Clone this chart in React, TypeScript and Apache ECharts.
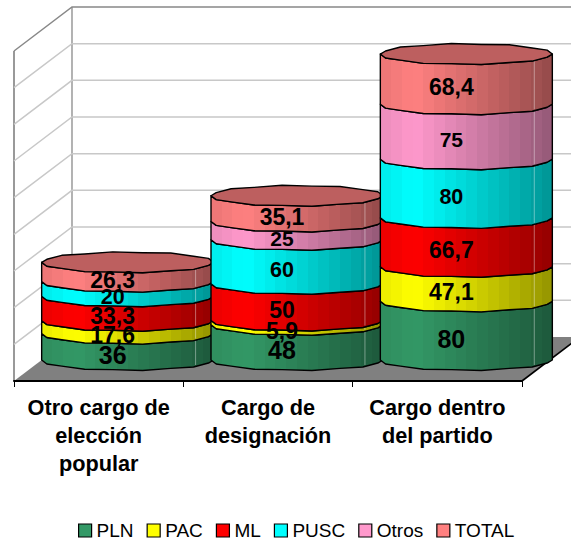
import React, { useEffect, useRef } from "react";
import * as echarts from "echarts";

const categories = ["Otro cargo de\nelección\npopular", "Cargo de\ndesignación", "Cargo dentro\ndel partido"];
const seriesNames = ["PLN", "PAC", "ML", "PUSC", "Otros", "TOTAL"];
const valPLN = [36, 48, 80];
const valPAC = [17.6, 5.9, 47.1];
const valML = [33.3, 50, 66.7];
const valPUSC = [20, 60, 80];
const valOtros = [null, 25, 75];
const valTOTAL = [26.3, 35.1, 68.4];
const allValues = [valPLN, valPAC, valML, valPUSC, valOtros, valTOTAL];
const axisTicks = [0, 50, 100, 150, 200, 250, 300, 350, 400, 450];

const colors = ["#339966", "#FFFF00", "#FF0000", "#00FFFF", "#FF99CC", "#FF8080"];
const labelSizes = [25, 23, 23, 21.5, 21, 23];
const FONT = "'Liberation Sans', Arial, sans-serif";

const DEPTH_X = 58, DEPTH_Y = -44;
const OFF_X = 29, OFF_Y = -21;
const RX = 86, RY = 10.2;
const STEP = 20;

function shade(hex: string, f: number) {
  const n = parseInt(hex.slice(1), 16);
  const c = [(n >> 16) & 255, (n >> 8) & 255, n & 255].map((v) => Math.round(v * f));
  return `rgb(${c[0]},${c[1]},${c[2]})`;
}

function facetGradient(hex: string) {
  const bands = 16;
  const stops: { offset: number; color: string }[] = [];
  for (let i = 0; i < bands; i++) {
    const m = (i + 0.5) / bands;
    const f = m < 0.2 ? 0.92 + (0.08 * m) / 0.2 : 1 - (0.42 * (m - 0.2)) / 0.8;
    const color = shade(hex, f);
    stops.push({ offset: i / bands, color });
    stops.push({ offset: (i + 1) / bands, color });
  }
  return new echarts.graphic.LinearGradient(0, 0, 1, 0, stops);
}

function rimPoint(cx: number, cy: number, deg: number): number[] {
  const a = (deg * Math.PI) / 180;
  const wob = Math.round(deg / STEP) % 2 === 0 ? 0.45 : -0.45;
  const isEnd = deg % 180 === 0;
  return [cx + RX * Math.cos(a), cy + RY * Math.sin(a) + (isEnd ? 0 : wob)];
}

function frontArc(cx: number, cy: number): number[][] {
  const pts: number[][] = [];
  for (let d = 0; d <= 180; d += STEP) pts.push(rimPoint(cx, cy, d));
  return pts;
}

function fullRim(cx: number, cy: number): number[][] {
  const pts: number[][] = [];
  for (let d = 0; d < 360; d += STEP) pts.push(rimPoint(cx, cy, d));
  return pts;
}

export default function App() {
  const ref = useRef<HTMLDivElement>(null);

  useEffect(() => {
    document.body.style.margin = "0";
    const chart = echarts.init(ref.current!, undefined, { renderer: "svg" });

    const partySeries = seriesNames.map((name, s) => {
      const data = categories.map((_, c) => {
        let base = 0;
        for (let k = 0; k < s; k++) base += allValues[k][c] ?? 0;
        const v = allValues[s][c];
        return [c, base, base + (v ?? 0), v ?? 0];
      });
      return {
        type: "custom",
        name,
        itemStyle: { color: colors[s] },
        encode: { x: 0, y: [1, 2] },
        data,
        clip: false,
        renderItem: (_p: any, api: any) => {
          const c = api.value(0), lo = api.value(1), hi = api.value(2), v = api.value(3);
          if (!v) return { type: "group", children: [] };
          const b = api.coord([c, lo]);
          const t = api.coord([c, hi]);
          const cx = b[0] + OFF_X;
          const yb = b[1] + OFF_Y;
          const yt = t[1] + OFF_Y;
          const z = c * 10 + s;
          const lowArc = frontArc(cx, yb);
          const upArc = frontArc(cx, yt);
          const children: any[] = [
            {
              type: "polygon",
              z2: z,
              shape: { points: lowArc.concat(upArc.slice().reverse()) },
              style: { fill: facetGradient(colors[s]), stroke: "#000", lineWidth: 1.4, lineJoin: "round" },
            },
            {
              type: "line",
              z2: z,
              shape: { x1: cx + 0.79 * RX, y1: yb + 5, x2: cx + 0.79 * RX, y2: yt + 7 },
              style: { stroke: "rgba(255,255,255,0.4)", lineWidth: 1 },
            },
          ];
          if (s === seriesNames.length - 1) {
            children.push({
              type: "polygon",
              z2: z + 1,
              shape: { points: fullRim(cx, yt) },
              style: { fill: shade(colors[s], 0.74), stroke: "#000", lineWidth: 1.4, lineJoin: "round" },
            });
          }
          children.push({
            type: "text",
            z2: 200,
            x: cx - 15,
            y: (yb + yt) / 2 + 8,
            style: {
              text: String(v).replace(".", ","),
              fontSize: labelSizes[s],
              fontWeight: "bold",
              fontFamily: FONT,
              fill: "#000",
              align: "center",
              verticalAlign: "middle",
            },
          });
          return { type: "group", children };
        },
      };
    });

    const wallSeries = {
      type: "custom",
      name: "walls",
      silent: true,
      clip: false,
      data: axisTicks.map((v) => [0, v]),
      encode: { x: 0, y: 1 },
      z: 1,
      renderItem: (_p: any, api: any) => {
        const v = api.value(1);
        const y = api.coord([0, v])[1];
        const x0 = api.coord([0, 0])[0] - 84.67;
        const isTop = v === axisTicks[axisTicks.length - 1];
        const x1 = x0 + DEPTH_X, y1 = y + DEPTH_Y;
        const children: any[] = [];
        if (v === 0) {
          children.push({
            type: "polygon",
            shape: { points: [[x0, y], [x0 + 508, y], [x0 + 508 + DEPTH_X, y1], [x1, y1]] },
            style: { fill: "#808080", stroke: "none" },
          });
          children.push({
            type: "line",
            shape: { x1: x0 + 508, y1: y, x2: x0 + 508 + DEPTH_X, y2: y1 },
            style: { stroke: "#000", lineWidth: 1.6 },
          });
          children.push({
            type: "line",
            shape: { x1: x0, y1: y, x2: x0, y2: y + 330 * -1 },
            style: { stroke: "#999", lineWidth: 2 },
          });
          children.push({
            type: "line",
            shape: { x1: x1, y1: y1, x2: x1, y2: y1 - 330 },
            style: { stroke: "#999", lineWidth: 1.5 },
          });
        } else {
          children.push({
            type: "polyline",
            shape: { points: [[x0, y], [x1, y1], [x0 + 508 + DEPTH_X, y1]] },
            style: { stroke: isTop ? "#888" : "#c8c8c8", lineWidth: 1.5, fill: "none" },
          });
        }
        return { type: "group", children };
      },
    };

    chart.setOption({
      animation: false,
      backgroundColor: "#fff",
      legend: {
        data: seriesNames,
        left: 78,
        top: 521,
        itemWidth: 13,
        itemHeight: 13,
        itemGap: 13,
        padding: 0,
        icon: "rect",
        itemStyle: { borderColor: "#000", borderWidth: 1.2 },
        textStyle: { fontFamily: FONT, fontSize: 19, lineHeight: 17, color: "#000" },
      },
      grid: { left: 14, width: 508, top: 51, height: 330 },
      xAxis: {
        type: "category",
        data: categories,
        z: 10,
        axisLine: { show: true, lineStyle: { color: "#000", width: 2 } },
        axisTick: { show: true, length: 6, lineStyle: { color: "#000", width: 1 } },
        axisLabel: {
          fontFamily: FONT,
          fontWeight: "bold",
          fontSize: 21.7,
          lineHeight: 28,
          color: "#000",
          margin: 12,
          interval: 0,
        },
      },
      yAxis: { type: "value", min: 0, max: 450, interval: 50, show: false, splitLine: { show: false } },
      series: [wallSeries, ...partySeries],
    });
    return () => chart.dispose();
  }, []);

  return <div ref={ref} style={{ position: "fixed", left: 0, top: 0, width: 571, height: 539 }} />;
}
